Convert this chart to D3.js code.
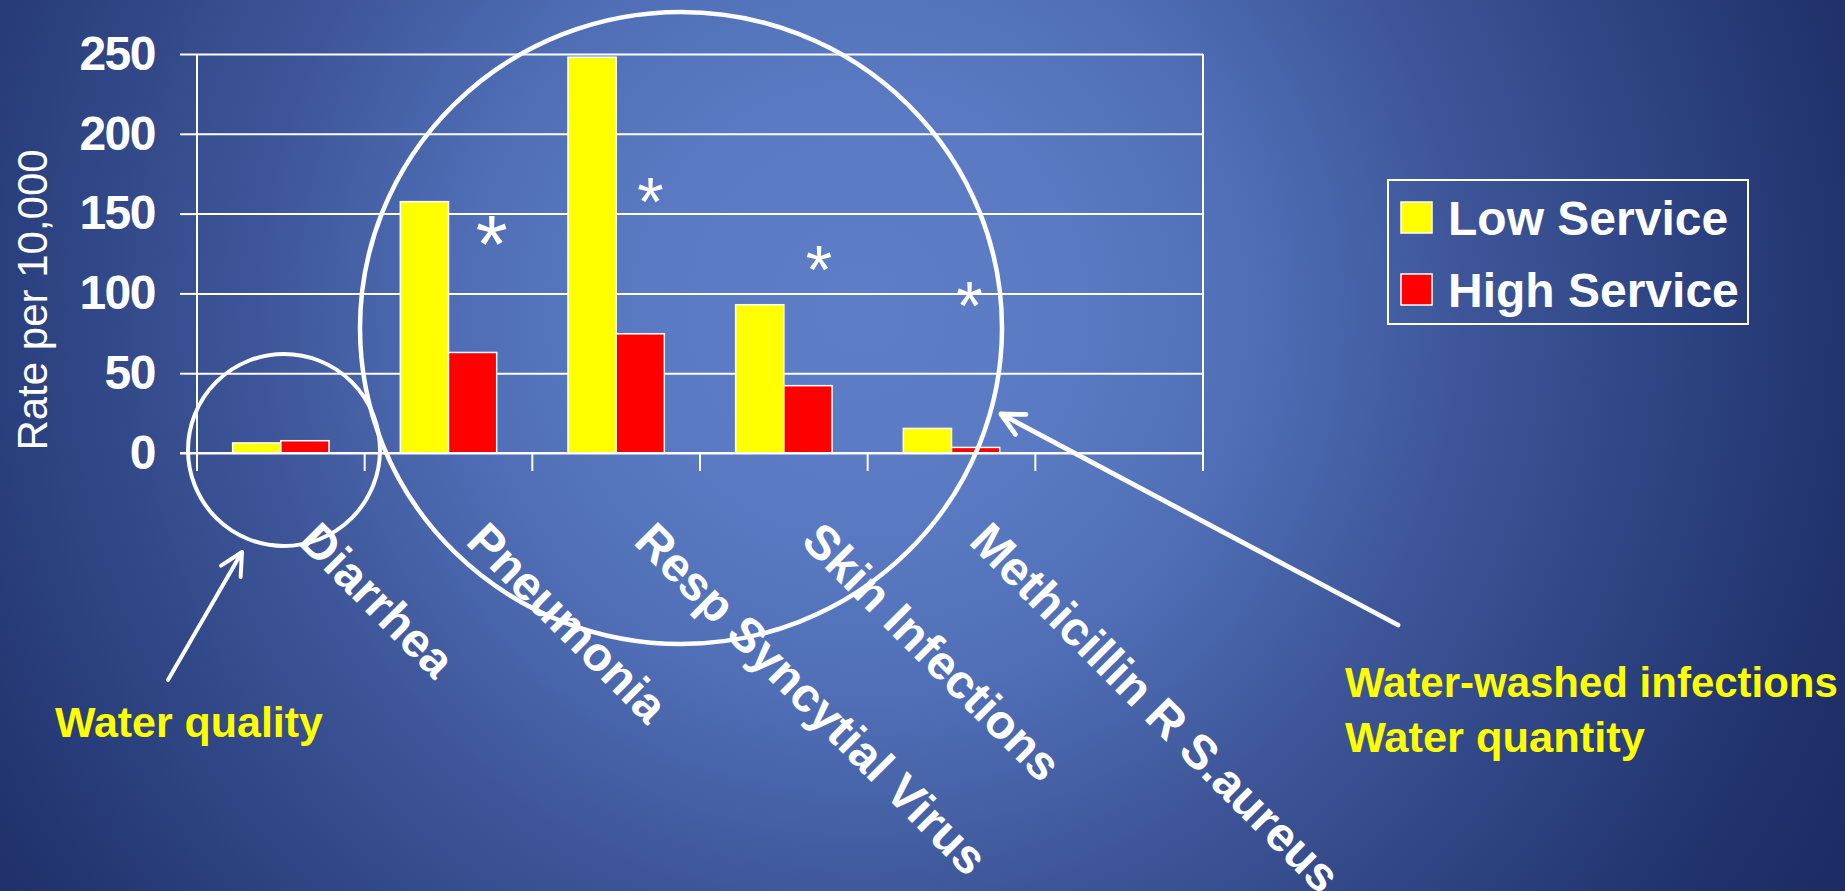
<!DOCTYPE html>
<html>
<head>
<meta charset="utf-8">
<script src="https://cdn.jsdelivr.net/npm/d3@7/dist/d3.min.js"></script>
<style>
  html, body { margin: 0; padding: 0; overflow: hidden; background: #2b4080; }
  text { font-family: "Liberation Sans", Arial, sans-serif; }
</style>
</head>
<body>
<svg id="chart" width="1845" height="891"></svg>
<script>
  // values
  var categories = ["Diarrhea", "Pneumonia", "Resp Syncytial Virus", "Skin Infections", "Methicillin R S.aureus", ""];
  var lowService  = [6.3, 157.5, 248, 92.9, 15.4];
  var highService = [7.7, 63, 74.7, 42.2, 3.5];
  var seriesNames = ["Low Service", "High Service"];
  var seriesColors = ["#ffff00", "#ff0000"];
  var yTicks = [0, 50, 100, 150, 200, 250];

  // significance stars (category, value level on the y scale)
  var starCats   = ["Pneumonia", "Resp Syncytial Virus", "Skin Infections", "Methicillin R S.aureus"];
  var starLevels = [138, 163, 121, 98];

  var svg = d3.select('#chart');
  var width = 1845, height = 891;
  var plot = { left: 197, right: 1203, top: 54, bottom: 453 };

  // background gradient
  var defs = svg.append('defs');
  var grad = defs.append('radialGradient')
      .attr('id', 'bg').attr('gradientUnits', 'userSpaceOnUse')
      .attr('cx', 860).attr('cy', 310).attr('r', 1200);
  [[0, '#5d7ec6'], [0.17, '#5a7bc3'], [0.33, '#4f6eb6'], [0.5, '#3e5699'],
   [0.68, '#2d4382'], [0.85, '#20316b'], [1, '#1a2860']].forEach(function(s) {
    grad.append('stop').attr('offset', s[0]).attr('stop-color', s[1]);
  });
  svg.append('rect').attr('width', width).attr('height', height).attr('fill', 'url(#bg)');

  var x0 = d3.scaleBand().domain(categories).range([plot.left, plot.right]);
  var x1 = d3.scaleBand().domain(seriesNames).range([0, x0.bandwidth()]).paddingOuter(0.74);
  var y = d3.scaleLinear().domain([0, 250]).range([plot.bottom, plot.top]);

  // gridlines
  svg.append('g')
      .attr('transform', 'translate(' + plot.left + ',0)')
      .call(d3.axisLeft(y).tickValues(yTicks).tickSize(-(plot.right - plot.left)).tickFormat(''))
      .call(function(g) {
        g.select('.domain').remove();
        g.selectAll('line').attr('stroke', '#fff').attr('stroke-width', 2);
      });

  // y axis ticks + labels
  svg.append('g')
      .attr('transform', 'translate(' + plot.left + ',0)')
      .call(d3.axisLeft(y).tickValues(yTicks).tickSize(17).tickPadding(25))
      .call(function(g) {
        g.select('.domain').remove();
        g.selectAll('line').attr('stroke', '#fff').attr('stroke-width', 2);
        g.selectAll('text')
            .attr('fill', '#fff')
            .attr('font-size', 48)
            .attr('font-weight', 'bold')
            .attr('letter-spacing', -1.5)
            .attr('font-family', '"Liberation Sans", Arial, sans-serif');
      });

  // left and right frame lines, category ticks
  var tickXs = categories.map(function(c) { return x0(c); }).concat([plot.right]);
  svg.append('g').selectAll('line')
      .data(tickXs)
      .enter().append('line')
      .attr('x1', function(d) { return d; }).attr('x2', function(d) { return d; })
      .attr('y1', function(d, i) { return (i === 0 || i === tickXs.length - 1) ? y(250) : y(0); })
      .attr('y2', y(0) + 18)
      .attr('stroke', '#fff').attr('stroke-width', 2);

  // bars
  var rows = categories.slice(0, 5).map(function(c, i) {
    return { cat: c, vals: [lowService[i], highService[i]] };
  });
  var groups = svg.append('g').selectAll('g')
      .data(rows).enter().append('g')
      .attr('transform', function(d) { return 'translate(' + x0(d.cat) + ',0)'; });
  groups.selectAll('rect')
      .data(function(d) { return d.vals.map(function(v, j) { return { s: seriesNames[j], v: v, c: seriesColors[j] }; }); })
      .enter().append('rect')
      .attr('x', function(d) { return x1(d.s); })
      .attr('width', x1.bandwidth())
      .attr('y', function(d) { return y(d.v); })
      .attr('height', function(d) { return y(0) - y(d.v); })
      .attr('fill', function(d) { return d.c; })
      .attr('stroke', '#fff').attr('stroke-width', 1.5);

  // zero line on top
  svg.append('line')
      .attr('x1', plot.left - 17).attr('x2', plot.right)
      .attr('y1', y(0)).attr('y2', y(0))
      .attr('stroke', '#fff').attr('stroke-width', 2);

  // stars
  var starOffsets = [0.757, 0.704, 0.71, 0.608];
  var starSizes = [82, 68, 68, 68];
  svg.append('g').selectAll('text')
      .data(starCats).enter().append('text')
      .attr('x', function(d, i) { return x0(d) + starOffsets[i] * x0.bandwidth(); })
      .attr('y', function(d, i) { return y(starLevels[i]) + 0.48 * starSizes[i]; })
      .attr('text-anchor', 'middle')
      .attr('font-size', function(d, i) { return starSizes[i]; })
      .attr('fill', '#fff')
      .text('*');

  // category labels, rotated
  svg.append('g').selectAll('text')
      .data(categories.filter(function(c) { return c !== ''; }))
      .enter().append('text')
      .attr('transform', function(d) {
        return 'translate(' + (x0(d) + x0.bandwidth() / 2 + 16) + ',543) rotate(45)';
      })
      .attr('font-size', 48).attr('font-weight', 'bold')
      .attr('fill', '#fff')
      .text(function(d) { return d; });

  // y axis title
  svg.append('text')
      .attr('transform', 'translate(47,300) rotate(-90)')
      .attr('text-anchor', 'middle')
      .attr('font-size', 42)
      .attr('fill', '#fff')
      .text('Rate per 10,000');

  // legend
  var legend = svg.append('g');
  legend.append('rect')
      .attr('x', 1388).attr('y', 180).attr('width', 360).attr('height', 144)
      .attr('fill', 'none').attr('stroke', '#fff').attr('stroke-width', 2);
  var items = legend.selectAll('g.item')
      .data(seriesNames).enter().append('g')
      .attr('transform', function(d, i) { return 'translate(1401,' + (202 + i * 72) + ')'; });
  items.append('rect')
      .attr('width', 31).attr('height', 31)
      .attr('fill', function(d, i) { return seriesColors[i]; })
      .attr('stroke', '#fff').attr('stroke-width', 1.5);
  items.append('text')
      .attr('x', 47).attr('y', 33)
      .attr('font-size', 48).attr('font-weight', 'bold')
      .attr('fill', '#fff')
      .text(function(d) { return d; });

  // circles around groups
  svg.append('circle')
      .attr('cx', 284).attr('cy', 450).attr('r', 96)
      .attr('fill', 'none').attr('stroke', '#fff').attr('stroke-width', 4);
  svg.append('ellipse')
      .attr('cx', 681).attr('cy', 328).attr('rx', 321).attr('ry', 316)
      .attr('fill', 'none').attr('stroke', '#fff').attr('stroke-width', 4.5);

  // arrows
  function arrow(x1, y1, x2, y2, w) {
    var a = Math.atan2(y1 - y2, x1 - x2), len = 25, spread = 0.47;
    var p = d3.path();
    p.moveTo(x1, y1); p.lineTo(x2, y2);
    p.moveTo(x2 + len * Math.cos(a - spread), y2 + len * Math.sin(a - spread));
    p.lineTo(x2, y2);
    p.lineTo(x2 + len * Math.cos(a + spread), y2 + len * Math.sin(a + spread));
    svg.append('path').attr('d', p.toString())
        .attr('fill', 'none').attr('stroke', '#fff').attr('stroke-width', w)
        .attr('stroke-linecap', 'round').attr('stroke-linejoin', 'round');
  }
  arrow(168, 680, 242, 552, 4);
  arrow(1398, 625, 1001, 414, 4.8);

  // yellow notes
  function note(txt, x, yb, targetW) {
    var t = svg.append('text')
        .attr('x', x).attr('y', yb)
        .attr('font-family', 'Lato, "Open Sans", sans-serif')
        .attr('font-weight', 'bold')
        .attr('font-size', 40)
        .attr('fill', '#ffff00')
        .text(txt);
    var w = t.node().getComputedTextLength();
    t.attr('font-size', 40 * targetW / w);
  }
  note('Water quality', 55, 737, 268);
  note('Water-washed infections', 1345, 697, 493);
  note('Water quantity', 1345, 752, 300);
</script>
</body>
</html>
